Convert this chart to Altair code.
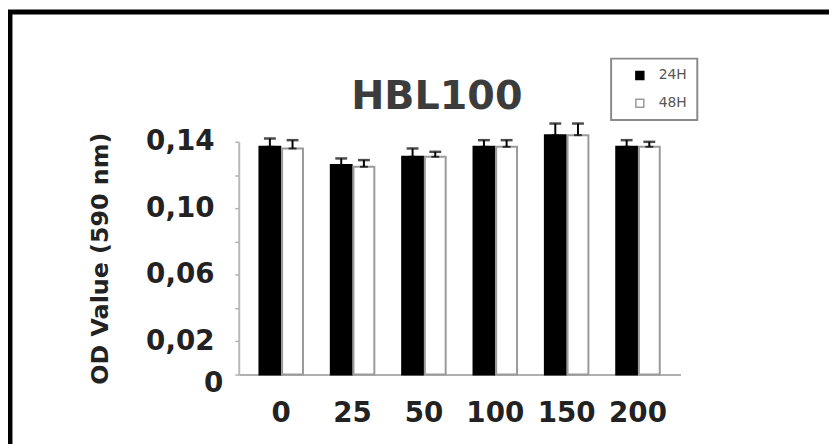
import altair as alt
import pandas as pd

# ---- data ----
doses = ["0", "25", "50", "100", "150", "200"]
times = ["24H", "48H"]
od_24h = [0.137, 0.126, 0.131, 0.137, 0.144, 0.137]
od_48h = [0.136, 0.125, 0.131, 0.137, 0.144, 0.137]
err_24h = [0.005, 0.004, 0.005, 0.004, 0.007, 0.004]
err_48h = [0.005, 0.004, 0.003, 0.004, 0.007, 0.003]
y_ticks = [0, 0.02, 0.04, 0.06, 0.08, 0.10, 0.12, 0.14]

rows = []
for i, d in enumerate(doses):
    rows.append({"dose": d, "time": "24H", "od": od_24h[i], "hi": od_24h[i] + err_24h[i]})
    rows.append({"dose": d, "time": "48H", "od": od_48h[i], "hi": od_48h[i] + err_48h[i]})
df = pd.DataFrame(rows)

FONT = "DejaVu Sans"

x_enc = alt.X(
    "dose:N", sort=doses,
    scale=alt.Scale(paddingInner=0.39, paddingOuter=0.29),
    axis=alt.Axis(title=None, labelAngle=0, ticks=False, tickSize=0, labelPadding=25,
                  labelFont=FONT, labelFontSize=28, labelFontWeight="bold", labelColor="#222",
                  domainColor="#b0b0b0", domainWidth=2),
)
xo_enc = alt.XOffset("time:N", sort=times, scale=alt.Scale(paddingInner=0.08, paddingOuter=0))

y_scale = alt.Scale(domain=[0, 0.14], nice=False, zero=True)
y_axis = alt.Axis(
    title="OD Value (590 nm)", values=y_ticks, grid=False,
    labelExpr="datum.value == 0 ? '0' : (round(datum.value*100) % 4 == 2 ? replace(format(datum.value, '.2f'), '.', ',') : '')",
    labelFont=FONT, labelFontSize=28, labelFontWeight="bold", labelColor="#222",
    labelPadding={"condition": {"test": "datum.value == 0", "value": 12}, "value": 21},
    labelOffset={"condition": {"test": "datum.value == 0", "value": 9}, "value": 0},
    tickSize=4, tickColor="#b0b0b0", tickWidth=1.5,
    domainColor="#b8b8b8", domainWidth=2,
    titleFont=FONT, titleFontSize=24, titleFontWeight="bold", titleColor="#222",
    titlePadding=33,
)

legend = alt.Legend(title=None, orient="none", legendX=376, legendY=-84,
                    symbolType="square", symbolSize=64, symbolStrokeWidth=1.5,
                    labelFont=FONT, labelFontSize=14, labelColor="#555",
                    labelOffset=12, rowPadding=14, padding=10, symbolOffset=12,
                    strokeColor="#8a8a8a")

base = alt.Chart(df)

bars = base.mark_bar(strokeWidth=2).encode(
    x=x_enc,
    xOffset=xo_enc,
    y=alt.Y("od:Q", scale=y_scale, axis=y_axis),
    fill=alt.Fill("time:N", sort=times,
                  scale=alt.Scale(domain=times, range=["#000000", "#ffffff"]),
                  legend=legend),
    stroke=alt.Stroke("time:N", sort=times,
                      scale=alt.Scale(domain=times, range=["#000000", "#9a9a9a"]),
                      legend=legend),
)

err_rule = base.mark_rule(color="#000", strokeWidth=2).encode(
    x=x_enc, xOffset=xo_enc,
    y=alt.Y("od:Q", scale=y_scale, axis=y_axis),
    y2="hi:Q",
)
cap_top = base.mark_tick(color="#000", thickness=2.5, size=12).encode(
    x=x_enc, xOffset=xo_enc,
    y=alt.Y("hi:Q", scale=y_scale, axis=y_axis),
)
cap_low = base.mark_tick(color="#000", thickness=2, size=8).encode(
    x=x_enc, xOffset=xo_enc,
    y=alt.Y("od:Q", scale=y_scale, axis=y_axis),
)

frame = alt.Chart(alt.Data(values=[{"k": 1}])).mark_rect(
    fill=None, stroke="#000", strokeWidth=5
).encode(
    x=alt.value(-231), x2=alt.value(600),
    y=alt.value(-131), y2=alt.value(330),
)

chart = alt.layer(bars, err_rule, cap_top, cap_low, frame).properties(
    width=446, height=235,
    title=alt.TitleParams("HBL100", font=FONT, fontSize=40, fontWeight="bold",
                          color="#3c3c3c", anchor="middle", frame="group",
                          dx=-23, dy=157, offset=9, baseline="bottom"),
    autosize=alt.AutoSizeParams(type="none"),
    padding={"left": 233, "top": 133, "right": 150, "bottom": 68},
).configure_view(stroke=None).configure_legend(strokeWidth=2)

chart.save("out.html", embed_options={"renderer": "svg", "actions": False})
